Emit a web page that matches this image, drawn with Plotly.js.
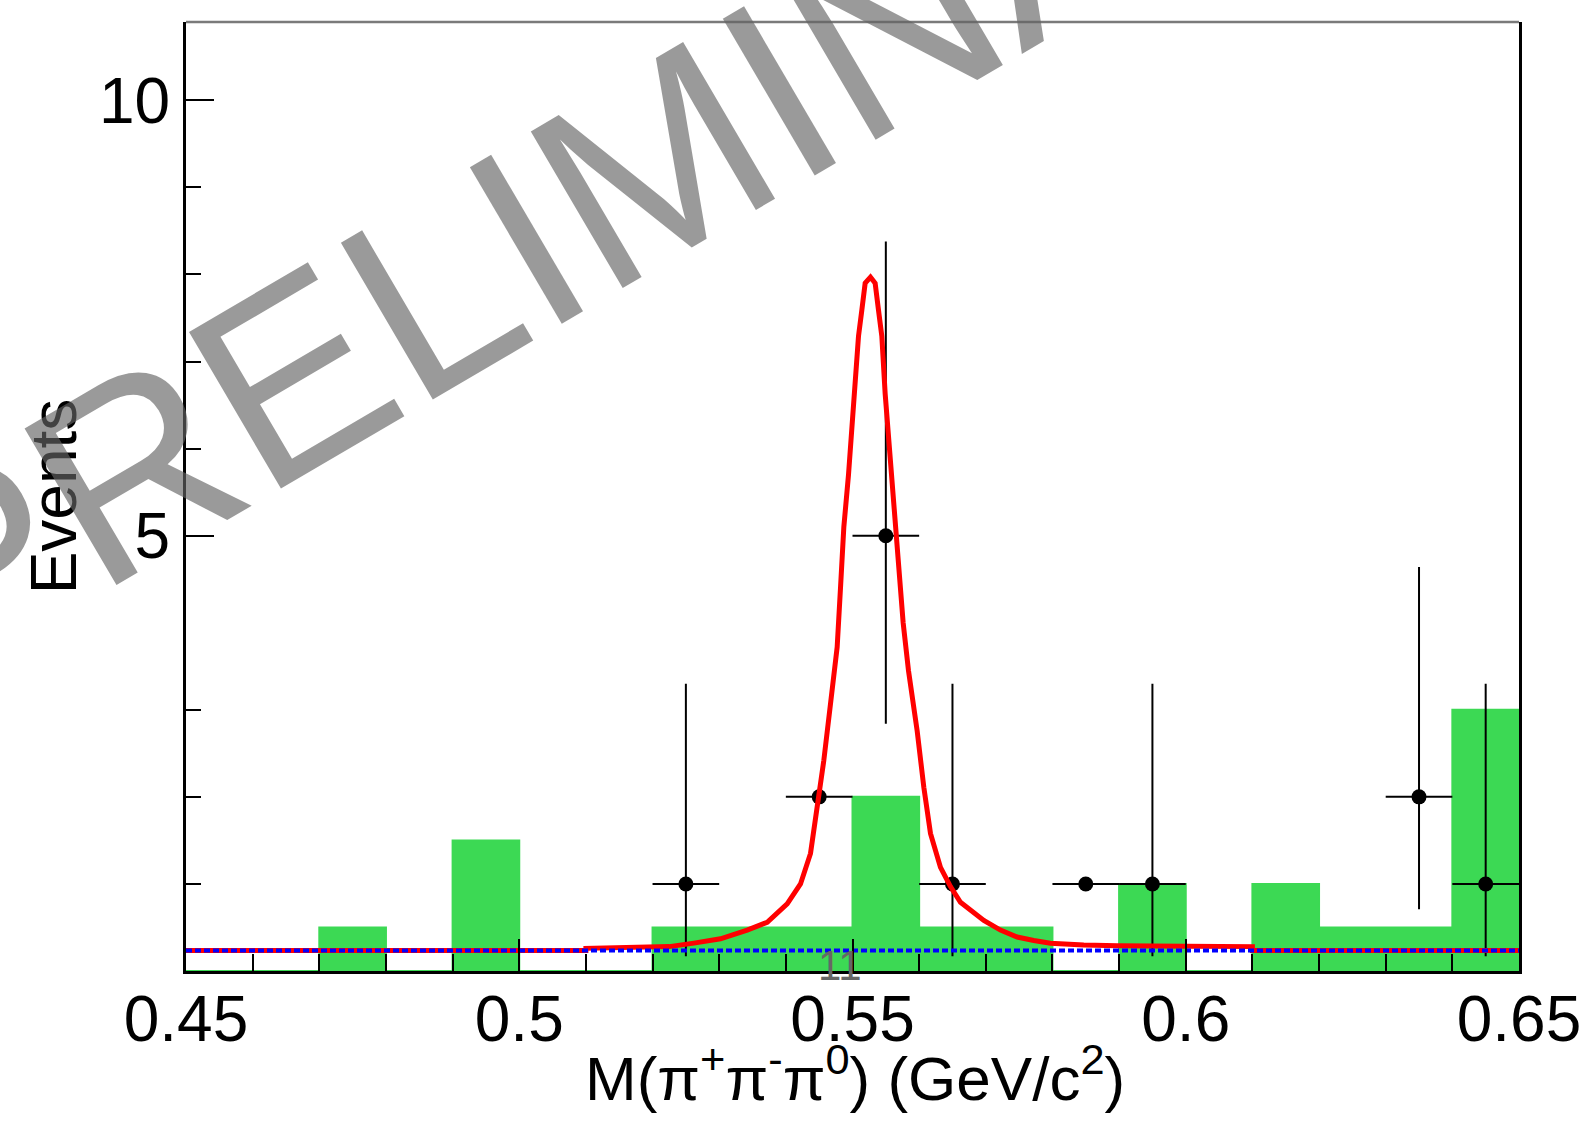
<!DOCTYPE html>
<html>
<head>
<meta charset="utf-8">
<script src="https://cdn.plot.ly/plotly-3.0.1.min.js"></script>
<style>html,body{margin:0;padding:0;background:#fff;}#chart{width:1588px;height:1133px;}</style>
</head>
<body>
<div id="chart"></div>
<script>
// ---- data ----
// background histogram (green), bins of 0.01 GeV/c^2
const binEdges = [0.45,0.46,0.47,0.48,0.49,0.50,0.51,0.52,0.53,0.54,0.55,0.56,0.57,0.58,0.59,0.60,0.61,0.62,0.63,0.64,0.65];
const bkgHist  = [0,0,0.5,0,1.5,0,0,0.5,0.5,0.5,2,0.5,0.5,0,1,0,1,0.5,0.5,3];

// data points (bin centres) with asymmetric Poisson errors
const dataX     = [0.525,0.545,0.555,0.565,0.585,0.595,0.635,0.645];
const dataY     = [1,2,5,1,1,1,2,1];
const dataErrHi = [2.30,0,3.38,2.30,0,2.30,2.64,2.30];
const dataErrLo = [0.83,0,2.16,0.83,0,0.83,1.29,0.83];
const dataHalfBin = 0.005;

// total fit (red)
const fitX = [0.450,0.510,0.510,0.5225,0.5262,0.5302,0.5342,0.5372,0.5402,0.5422,0.5437,0.5447,0.5457,0.5467,0.5477,0.5482,0.5487,0.5494,0.5499,0.5504,0.5509,0.5514,0.5519,0.5527,0.5534,0.5539,0.5544,0.5549,0.5554,0.5559,0.5564,0.5570,0.5576,0.5584,0.5597,0.5607,0.5617,0.5632,0.5647,0.5662,0.5672,0.5697,0.5722,0.5747,0.5772,0.5797,0.5847,0.5897,0.6000,0.6100,0.6100,0.6500];
const fitY = [0.236,0.236,0.26,0.28,0.32,0.37,0.47,0.56,0.77,1.00,1.35,1.85,2.42,3.07,3.72,4.40,5.10,5.70,6.21,6.83,7.29,7.59,7.90,7.97,7.90,7.59,7.29,6.63,6.17,5.71,5.15,4.60,4.00,3.45,2.76,2.11,1.58,1.19,0.97,0.79,0.73,0.58,0.47,0.39,0.35,0.32,0.30,0.29,0.285,0.28,0.236,0.236];

// flat background (blue dotted)
const bgX = [0.45,0.65];
const bgY = [0.236,0.236];

// axis ticks and titles
const xTickVals = [0.45,0.5,0.55,0.6,0.65];
const xTickText = ['0.45','0.5','0.55','0.6','0.65'];
const xMinorVals = [0.46,0.47,0.48,0.49,0.51,0.52,0.53,0.54,0.56,0.57,0.58,0.59,0.61,0.62,0.63,0.64];
const yTickVals = [5,10];
const yTickText = ['5','10'];
const yMinorVals = [1,2,3,6,7,8,9];
const xTitle = 'M(π<sup>+</sup>π<sup>-</sup>π<sup>0</sup>) (GeV/c<sup>2</sup>)';
const yTitle = 'Events';

const FONT = 'Liberation Sans, Arial, Helvetica, sans-serif';
const GREEN = 'rgb(60,217,84)';

const histX = binEdges.slice();
const histY = bkgHist.concat([bkgHist[bkgHist.length-1]]);

const traces = [
  {x: histX, y: histY, type:'scatter', mode:'lines', line:{shape:'hv', color:GREEN, width:2},
   fill:'tozeroy', fillcolor:GREEN, hoverinfo:'skip', showlegend:false},
  {x: dataX, y: dataY, type:'scatter', mode:'markers',
   marker:{symbol:'circle', size:15, color:'#000'},
   error_y:{type:'data', symmetric:false, array:dataErrHi, arrayminus:dataErrLo, width:0, thickness:2, color:'#000'},
   error_x:{type:'constant', value:dataHalfBin, width:0, thickness:2, color:'#000'},
   showlegend:false},
  {x: fitX, y: fitY, type:'scatter', mode:'lines', line:{color:'#ff0000', width:5}, showlegend:false},
  {x: bgX, y: bgY, type:'scatter', mode:'lines', line:{color:'#0000ff', width:4, dash:'6px,3px'}, showlegend:false}
];

const layout = {
  width:1588, height:1133,
  margin:{l:186, r:69, t:22, b:162, pad:0},
  paper_bgcolor:'#fff', plot_bgcolor:'#fff',
  font:{family:FONT, color:'#000'},
  showlegend:false,
  xaxis:{
    range:[0.45,0.65], tickmode:'array', tickvals:xTickVals, ticktext:xTickText,
    ticks:'inside', ticklen:32, tickwidth:2, tickcolor:'#000',
    minor:{tickmode:'array', tickvals:xMinorVals, ticks:'inside', ticklen:17, tickwidth:2, tickcolor:'#000', showgrid:false},
    showline:true, linewidth:3, linecolor:'#000', mirror:false,
    showgrid:false, zeroline:false,
    ticklabelstandoff:-10,
    tickfont:{family:FONT, size:64, color:'#000'}
  },
  yaxis:{
    range:[0,10.9], tickmode:'array', tickvals:yTickVals, ticktext:yTickText,
    ticks:'inside', ticklen:28, tickwidth:2, tickcolor:'#000',
    minor:{tickmode:'array', tickvals:yMinorVals, ticks:'inside', ticklen:15, tickwidth:2, tickcolor:'#000', showgrid:false},
    showline:true, linewidth:3, linecolor:'#000', mirror:true,
    showgrid:false, zeroline:false,
    tickfont:{family:FONT, size:64, color:'#000'},
    title:{text:yTitle, font:{family:FONT, size:64, color:'#000'}, standoff:2}
  },
  shapes:[
    {type:'line', xref:'paper', yref:'paper', x0:0, x1:1, y0:1, y1:1, line:{color:'#7a7a7a', width:2.5}}
  ],
  annotations:[
    {text:'PRELIMINARY', xref:'paper', yref:'paper', x:0.3628, y:0.8602, xanchor:'center', yanchor:'middle',
     textangle:-30.4, showarrow:false, font:{family:FONT, size:264, color:'rgba(100,100,100,0.65)'}},
    {text:xTitle, xref:'paper', yref:'paper', x:0.502, y:-0.1515, xanchor:'center', yanchor:'bottom',
     showarrow:false, font:{family:FONT, size:62, color:'#000'}},
    {text:'11', xref:'paper', yref:'paper', x:0.4906, y:0.006, xanchor:'center', yanchor:'middle',
     showarrow:false, font:{family:FONT, size:42, color:'#666'}}
  ]
};

Plotly.newPlot('chart', traces, layout, {staticPlot:true, displayModeBar:false});
</script>
</body>
</html>
